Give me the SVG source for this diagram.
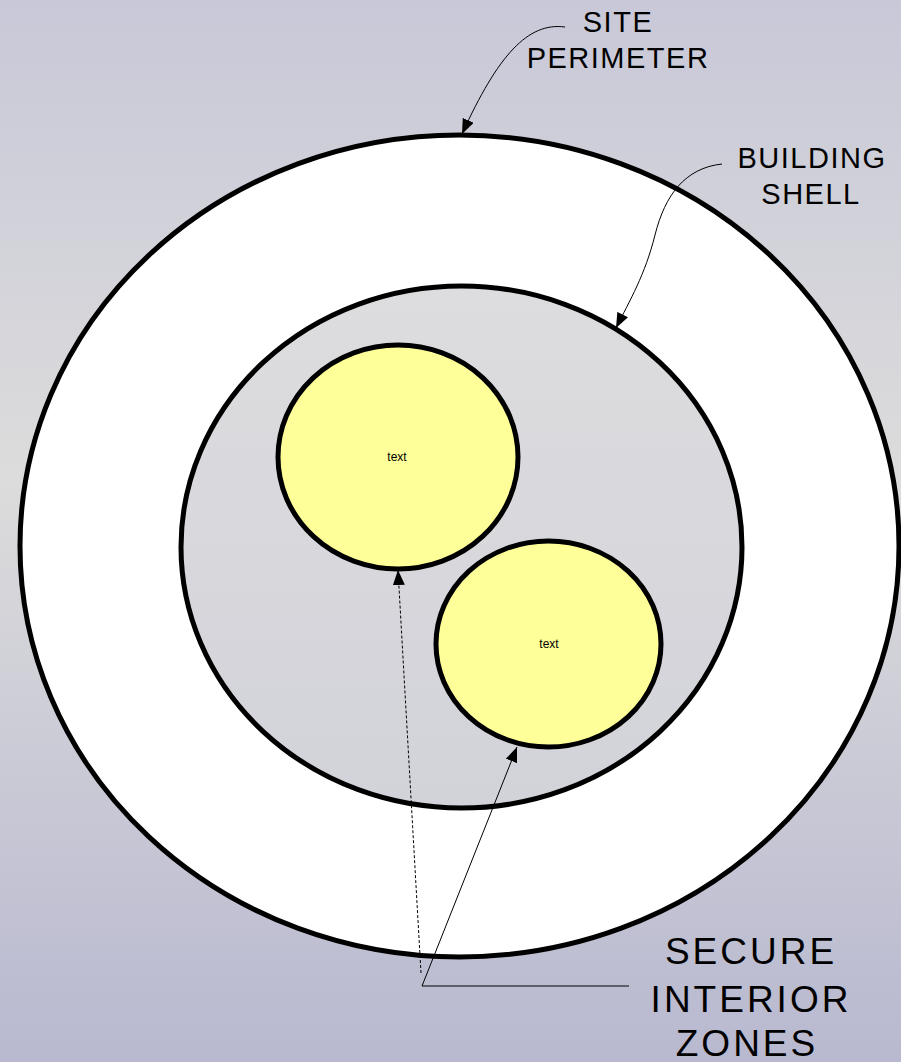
<svg xmlns="http://www.w3.org/2000/svg" width="901" height="1062" viewBox="0 0 901 1062">
<defs>
<linearGradient id="bg" x1="0" y1="0" x2="0" y2="1">
<stop offset="0" stop-color="#c8c8d8"/>
<stop offset="0.45" stop-color="#dcdcdc"/>
<stop offset="1" stop-color="#b8b8d0"/>
</linearGradient>
<linearGradient id="inner" x1="0" y1="0" x2="0" y2="1">
<stop offset="0" stop-color="#dddddf"/>
<stop offset="1" stop-color="#d2d2da"/>
</linearGradient>
<marker id="arr" markerUnits="userSpaceOnUse" markerWidth="16" markerHeight="12" refX="15" refY="6" orient="auto">
<path d="M0,0 L15,6 L0,12 z" fill="#000"/>
</marker>
</defs>
<style>
.ring{stroke:#000;stroke-width:5}
.zone{fill:#ffff99;stroke:#000;stroke-width:5}
.lbl{font-family:"Liberation Sans",Arial,sans-serif;fill:#000;text-anchor:middle}
.big{font-size:29px;letter-spacing:1.5px}
.huge{font-size:37px;letter-spacing:3px}
.small{font-size:12px}
.conn{fill:none;stroke:#000;stroke-width:1}
</style>
<rect x="0" y="0" width="901" height="1062" fill="url(#bg)"/>
<g id="site-perimeter">
<ellipse cx="459.5" cy="546" rx="439.5" ry="411" fill="#fff" class="ring"/>
</g>
<g id="building-shell">
<ellipse cx="461.5" cy="547" rx="280.5" ry="261" fill="url(#inner)" class="ring"/>
</g>
<g id="zone1">
<ellipse cx="398" cy="457" rx="120" ry="112" class="zone"/>
<text x="397" y="461" class="lbl small">text</text>
</g>
<g id="zone2">
<ellipse cx="548.5" cy="644" rx="112.5" ry="103" class="zone"/>
<text x="549" y="648" class="lbl small">text</text>
</g>
<g id="label-site">
<text x="618" y="32" class="lbl big">SITE</text>
<text x="618" y="68" class="lbl big">PERIMETER</text>
</g>
<g id="label-building">
<text x="812" y="168" class="lbl big">BUILDING</text>
<text x="811" y="204" class="lbl big">SHELL</text>
</g>
<g id="label-secure">
<text x="751" y="964" class="lbl huge">SECURE</text>
<text x="751" y="1012" class="lbl huge">INTERIOR</text>
<text x="747" y="1056" class="lbl huge">ZONES</text>
</g>
<g id="connectors">
<path class="conn" d="M565,27 C528,22 498,55 462,134" marker-end="url(#arr)"/>
<path class="conn" d="M722,164 C685,168 665,195 655,235 C645,275 630,300 616,328" marker-end="url(#arr)"/>
<path class="conn" d="M421,973 L398,570" stroke-dasharray="3,2" stroke-width="1.3" marker-end="url(#arr)"/>
<path class="conn" d="M629,986 L422,986 L517,747" marker-end="url(#arr)"/>
</g>
</svg>
